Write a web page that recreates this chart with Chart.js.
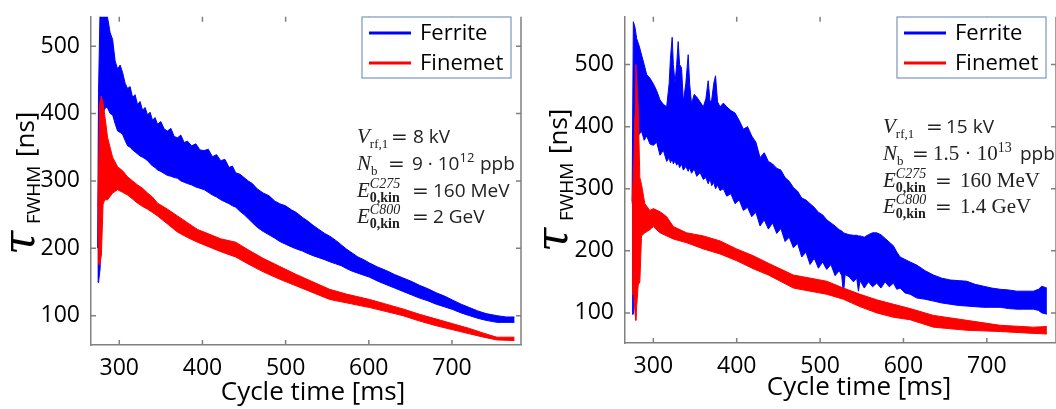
<!DOCTYPE html>
<html>
<head>
<meta charset="utf-8">
<script src="https://cdn.jsdelivr.net/npm/chart.js@4.4.0/dist/chart.umd.min.js"></script>
<style>
  html, body { margin: 0; padding: 0; background: #fff; }
  #wrap { position: relative; width: 1056px; height: 409px; overflow: hidden; }
  canvas { position: absolute; top: 0; }
</style>
</head>
<body>
<div id="wrap">
  <canvas id="left" width="528" height="409" style="left:0"></canvas>
  <canvas id="right" width="528" height="409" style="left:528px"></canvas>
</div>
<script>
const seriesNames = ["Ferrite", "Finemet"];
const seriesColors = ["#0000ff", "#ff0000"];
const xTicks = [300, 400, 500, 600, 700];
const yTicks = [100, 200, 300, 400, 500];

// left panel (V = 8 kV): band of each trace as upper / lower edge
const ferriteT1  = [274, 275, 277, 280, 284, 286, 289, 292, 295, 298, 301, 304, 307, 310, 313, 316, 319, 322, 325, 328, 331, 334, 337, 340, 343, 346, 350, 354, 358, 362, 366, 370, 374, 378, 382, 387, 392, 397, 402, 407, 412, 417, 422, 427, 432, 436, 440, 445, 450, 455, 460, 466, 473, 480, 487, 493, 500, 507, 513, 520, 527, 533, 540, 547, 553, 560, 567, 573, 580, 587, 594, 601, 611, 621, 631, 641, 651, 661, 671, 681, 691, 701, 711, 721, 731, 741, 754, 765, 775];
const ferriteHi1 = [200, 430, 560, 560, 556, 542, 520, 510, 478, 466, 472, 461, 445, 437, 440, 424, 428, 413, 418, 405, 409, 398, 402, 390, 394, 384, 388, 377, 374, 378, 366, 364, 368, 357, 359, 352, 355, 346, 345, 347, 336, 339, 330, 332, 320, 322, 312, 310, 305, 300, 296, 288, 282, 278, 270, 266, 263, 257, 253, 246, 240, 234, 228, 222, 218, 212, 205, 199, 193, 187, 183, 178, 172, 167, 161, 156, 151, 145, 140, 134, 129, 123, 117, 112, 107, 103, 100, 98, 98];
const ferriteLo1 = [150, 149, 170, 400, 410, 408, 400, 398, 385, 374, 372, 369, 360, 352, 350, 346, 343, 340, 337, 335, 333, 330, 326, 322, 320, 316, 314, 311, 308, 307, 305, 304, 300, 298, 296, 294, 291, 289, 287, 283, 279, 276, 272, 269, 266, 263, 261, 255, 250, 244, 238, 231, 225, 220, 215, 210, 206, 202, 199, 196, 192, 189, 186, 183, 180, 177, 174, 170, 166, 163, 160, 157, 151, 146, 141, 136, 131, 126, 122, 117, 113, 109, 104, 100, 96, 93, 90, 90, 90];

const finemetT1  = [274.5, 276.5, 278.5, 280.5, 282.5, 286, 292, 298, 304, 310, 316, 322, 328, 334, 340, 346, 358, 370, 382, 394, 408, 422, 440, 456, 473, 493, 513, 533, 553, 573, 601, 621, 641, 661, 681, 701, 721, 738, 754, 775];
const finemetHi1 = [260, 415, 426, 415, 398, 364, 335, 321, 315, 306, 300, 294, 289, 282, 276, 267, 258, 248, 238, 228, 221, 214, 209, 197, 185, 173, 161, 150, 139, 132, 124, 117, 110, 102, 95, 88, 81, 74, 68, 68];
const finemetLo1 = [178, 175, 190, 265, 272, 272, 282, 287, 283, 279, 273, 267, 262, 258, 253, 248, 236, 224, 216, 209, 202, 195, 187, 176, 165, 154, 144, 134, 124, 119, 112, 106, 100, 92, 85, 79, 73, 68, 64, 63];

// right panel (V = 15 kV)
const ferriteT2  = [274.5, 276, 278, 280, 283, 286, 289, 292, 296, 300, 304, 308, 312, 316, 319, 320.5, 322.6, 324, 326, 328, 329.8, 331.5, 333.8, 336, 339, 341.8, 343.5, 345.8, 349, 352, 356, 360, 363, 365.8, 368, 370, 372.5, 374.6, 377, 380, 384, 388, 393, 398, 403, 408, 413, 418, 423, 428, 433, 438, 443, 448, 453, 458, 463, 468, 473, 478, 483, 488, 493, 498, 503, 508, 513, 518, 523, 526, 528, 530, 535, 540, 544, 546, 548, 553, 558, 563, 568, 573, 578, 583, 588, 592, 596, 602, 608, 616, 626, 636, 646, 656, 666, 676, 686, 696, 706, 716, 726, 736, 746, 756, 762, 766, 772];
const ferriteHi2 = [280, 569, 560, 542, 530, 515, 500, 484, 478, 469, 458, 443, 436, 432, 470, 510, 544, 500, 470, 500, 537, 500, 495, 440, 470, 516, 470, 437, 452, 448, 440, 432, 445, 474, 440, 443, 470, 482, 440, 432, 438, 432, 426, 422, 410, 396, 400, 385, 375, 350, 358, 344, 340, 333, 330, 318, 312, 302, 296, 285, 282, 276, 270, 262, 258, 250, 245, 240, 234, 232, 229, 228, 226, 225, 225, 224, 224, 222, 226, 229, 229, 226, 220, 214, 208, 198, 190, 186, 182, 177, 168, 161, 156, 153, 152, 151, 146, 143, 140, 138, 137, 135, 135, 135, 138, 143, 140];
const ferriteLo2 = [98, 98, 350, 380, 388, 392, 378, 385, 372, 370, 375, 354, 362, 344, 350, 342, 348, 340, 345, 338, 342, 334, 340, 330, 336, 328, 334, 325, 332, 320, 326, 315, 318, 308, 316, 305, 310, 300, 306, 297, 300, 288, 292, 276, 282, 265, 270, 255, 262, 240, 250, 235, 245, 228, 236, 215, 222, 205, 212, 190, 198, 178, 188, 172, 182, 170, 178, 160, 168, 160, 130, 162, 158, 150, 156, 135, 152, 140, 150, 142, 148, 140, 150, 142, 148, 138, 140, 132, 130, 124, 122, 119, 116, 114, 112, 111, 110, 109, 109, 109, 107, 106, 106, 106, 104, 100, 98];

const finemetT2  = [274.5, 276.5, 278, 279, 280, 281.8, 283.8, 285.8, 289.8, 295.8, 300, 308, 316, 324, 340, 360, 380, 400, 420, 438, 468, 508, 528, 548, 568, 588, 608, 636, 676, 716, 756, 772];
const finemetHi2 = [276, 340, 420, 500, 480, 432, 318, 307, 276, 265, 268, 263, 255, 239, 229, 224, 216, 203, 192, 180, 161, 151, 140, 130, 121, 114, 107, 96, 88, 80, 77, 78];
const finemetLo2 = [130, 130, 100, 88, 110, 145, 150, 224, 229, 234, 239, 229, 224, 219, 213, 203, 195, 184, 171, 161, 140, 130, 122, 110, 100, 93, 89, 77, 72, 70, 67, 66];

const annot1 = [
  [{t: "V", f: "mi"}, {t: "rf,1", f: "sub", dy: 5}, {t: "=", f: "eq", at: 34}, {t: "8 kV", f: "sans", at: 56}],
  [{t: "N", f: "mi"}, {t: "b", f: "sub", dy: 5}, {t: "=", f: "eq", at: 31}, {t: "9 \u00b7 10", f: "sans", at: 55}, {t: "12", f: "sansSup", dy: -8}, {t: "ppb", f: "sans", at: 123}],
  [{t: "E", f: "mi"}, {t: "C275", f: "sup", dy: -9, keep: true}, {t: "0,kin", f: "subB", dy: 5}, {t: "=", f: "eq", at: 55}, {t: "160 MeV", f: "sans", at: 76}],
  [{t: "E", f: "mi"}, {t: "C800", f: "sup", dy: -9, keep: true}, {t: "0,kin", f: "subB", dy: 5}, {t: "=", f: "eq", at: 55}, {t: "2 GeV", f: "sans", at: 76}]
];
const annot2 = [
  [{t: "V", f: "mi"}, {t: "rf,1", f: "sub", dy: 5}, {t: "=", f: "eq", at: 43}, {t: "15 kV", f: "sans", at: 63}],
  [{t: "N", f: "mi"}, {t: "b", f: "sub", dy: 5}, {t: "=", f: "eq", at: 29}, {t: "1.5 \u00b7 10", f: "serif", at: 50}, {t: "13", f: "serifSup", dy: -8}, {t: "ppb", f: "sans", at: 137}],
  [{t: "E", f: "mi"}, {t: "C275", f: "sup", dy: -9, keep: true}, {t: "0,kin", f: "subB", dy: 5}, {t: "=", f: "eq", at: 52}, {t: "160 MeV", f: "serif", at: 77}],
  [{t: "E", f: "mi"}, {t: "C800", f: "sup", dy: -9, keep: true}, {t: "0,kin", f: "subB", dy: 5}, {t: "=", f: "eq", at: 52}, {t: "1.4 GeV", f: "serif", at: 77}]
];

const fonts = {
  mi: 'italic 21px "Liberation Serif"',
  sub: '13px "Liberation Serif"',
  subB: 'bold 14px "Liberation Serif"',
  sup: 'italic 14px "Liberation Serif"',
  eq: '20px "DejaVu Sans"',
  sans: '19px "Open Sans"',
  sansSup: '13px "Open Sans"',
  serif: '21px "Liberation Serif"',
  serifSup: '14px "Liberation Serif"'
};

function pts(t, v) {
  return t.map((x, i) => ({x: x, y: v[i]}));
}

function drawRich(ctx, x0, y0, segs) {
  let x = x0;
  segs.forEach(s => {
    ctx.font = fonts[s.f];
    if (s.at !== undefined) x = x0 + s.at;
    ctx.fillText(s.t, x, y0 + (s.dy || 0));
    if (!s.keep) x += ctx.measureText(s.t).width;
  });
}

// solid fill between the upper-edge and lower-edge lines of each band,
// drawn as one polygon from the points Chart.js placed
const bandFill = {
  id: "bandFill",
  beforeDatasetDraw(chart, args) {
    const ds = chart.data.datasets[args.index];
    if (ds.pair === undefined) return;
    const ctx = chart.ctx, a = chart.chartArea;
    const upper = chart.getDatasetMeta(ds.pair).data;
    const lower = args.meta.data;
    ctx.save();
    ctx.beginPath();
    ctx.rect(a.left, a.top, a.right - a.left, a.bottom - a.top);
    ctx.clip();
    ctx.beginPath();
    upper.forEach((p, i) => (i ? ctx.lineTo(p.x, p.y) : ctx.moveTo(p.x, p.y)));
    for (let i = lower.length - 1; i >= 0; i--) ctx.lineTo(lower[i].x, lower[i].y);
    ctx.closePath();
    ctx.fillStyle = ds.backgroundColor;
    ctx.fill();
    ctx.restore();
  }
};

const frame = {
  id: "frame",
  afterDraw(chart) {
    const ctx = chart.ctx, a = chart.chartArea;
    const xs = chart.scales.x, ys = chart.scales.y;
    ctx.save();
    ctx.strokeStyle = "#808080";
    ctx.lineWidth = 1.5;
    ctx.beginPath();
    ctx.moveTo(a.right, a.top);
    ctx.lineTo(a.right, a.bottom);
    xTicks.forEach(v => {
      const p = xs.getPixelForValue(v);
      ctx.moveTo(p, a.bottom); ctx.lineTo(p, a.bottom - 5);
      ctx.moveTo(p, a.top); ctx.lineTo(p, a.top + 5);
    });
    yTicks.forEach(v => {
      const p = ys.getPixelForValue(v);
      ctx.moveTo(a.left, p); ctx.lineTo(a.left + 5, p);
      ctx.moveTo(a.right, p); ctx.lineTo(a.right - 5, p);
    });
    ctx.stroke();
    ctx.restore();
  }
};

const extras = {
  id: "extras",
  afterDraw(chart, args, o) {
    const ctx = chart.ctx;
    ctx.save();
    // legend box
    ctx.fillStyle = "#fff";
    ctx.fillRect(o.box[0], o.box[1], o.box[2], o.box[3]);
    ctx.strokeStyle = "#7b96bf";
    ctx.lineWidth = 1.2;
    ctx.strokeRect(o.box[0], o.box[1], o.box[2], o.box[3]);
    ctx.font = '22px "Open Sans"';
    ctx.textBaseline = "middle";
    ctx.textAlign = "left";
    seriesNames.forEach((n, i) => {
      const y = o.box[1] + 16 + i * 30;
      ctx.strokeStyle = seriesColors[i];
      ctx.lineWidth = 3;
      ctx.beginPath();
      ctx.moveTo(o.line[0], y);
      ctx.lineTo(o.line[1], y);
      ctx.stroke();
      ctx.fillStyle = "#000";
      ctx.fillText(n, o.line[2], y + 1);
    });
    // parameters
    ctx.textBaseline = "alphabetic";
    ctx.fillStyle = "#222";
    o.annot.forEach((line, i) => drawRich(ctx, o.ax, o.ay[i], line));
    // x title
    ctx.fillStyle = "#000";
    ctx.textAlign = "center";
    ctx.textBaseline = "middle";
    ctx.font = '26px "Open Sans"';
    ctx.fillText("Cycle time [ms]", o.xt[0], o.xt[1]);
    // y title, rotated
    ctx.translate(o.yt[0], o.yt[1]);
    ctx.rotate(-Math.PI / 2);
    ctx.textAlign = "left";
    ctx.textBaseline = "alphabetic";
    ctx.font = 'italic 44px "DejaVu Serif"';
    ctx.fillText("\u03c4", -2, 0);
    ctx.font = '19px "Open Sans"';
    ctx.fillText("FWHM", 29, 6);
    ctx.font = '26px "Open Sans"';
    ctx.fillText("[ns]", 96, 0);
    ctx.restore();
  }
};

function makeChart(id, ferrite, finemet, o) {
  const edge = (t, v, color, label, pair) => ({
    label: label, data: pts(t, v), borderColor: color, backgroundColor: color,
    borderWidth: 1, pointRadius: 0, tension: 0, fill: false, pair: pair
  });
  // drawn last-to-first, so Finemet (0, 1) ends up above Ferrite (2, 3)
  return new Chart(document.getElementById(id), {
    type: "line",
    data: {datasets: [
      edge(finemet[0], finemet[1], seriesColors[1], seriesNames[1]),
      edge(finemet[0], finemet[2], seriesColors[1], seriesNames[1], 0),
      edge(ferrite[0], ferrite[1], seriesColors[0], seriesNames[0]),
      edge(ferrite[0], ferrite[2], seriesColors[0], seriesNames[0], 2)
    ]},
    options: {
      responsive: false,
      animation: false,
      layout: {padding: {top: o.top, right: o.padRight, left: 0, bottom: 0}},
      plugins: {legend: {display: false}, tooltip: {enabled: false}, extras: o},
      scales: {
        x: {
          type: "linear", min: o.xmin, max: o.xmax,
          afterFit: s => { s.height = o.xh; },
          afterBuildTicks: s => { s.ticks = xTicks.map(v => ({value: v})); },
          grid: {display: false},
          border: {display: true, color: "#808080", width: 1.5},
          ticks: {color: "#000", padding: 2, maxRotation: 0, font: {family: "Open Sans", size: 23}}
        },
        y: {
          type: "linear", min: o.ymin, max: o.ymax,
          afterFit: s => { s.width = o.yw; },
          afterBuildTicks: s => { s.ticks = yTicks.map(v => ({value: v})); },
          grid: {display: false},
          border: {display: true, color: "#808080", width: 1.5},
          ticks: {color: "#000", padding: 3, font: {family: "Open Sans", size: 23}}
        }
      }
    },
    plugins: [bandFill, frame, extras]
  });
}

makeChart("left", [ferriteT1, ferriteHi1, ferriteLo1], [finemetT1, finemetHi1, finemetLo1], {
  xmin: 266, xmax: 783, ymin: 56.4, ymax: 543.6,
  top: 10, padRight: 7, xh: 64, yw: 91,
  box: [362, 17, 149, 61], line: [369, 411, 420],
  annot: annot1, ax: 357, ay: [143, 170, 197, 223],
  xt: [313, 393], yt: [34, 253]
});

makeChart("right", [ferriteT2, ferriteHi2, ferriteLo2], [finemetT2, finemetHi2, finemetLo2], {
  xmin: 266, xmax: 783, ymin: 51.5, ymax: 577,
  top: 7, padRight: 0, xh: 66, yw: 97,
  box: [369, 17, 149, 61], line: [376, 418, 427],
  annot: annot2, ax: 355, ay: [133, 160, 187, 213],
  xt: [331, 388], yt: [39, 250]
});
</script>
</body>
</html>
